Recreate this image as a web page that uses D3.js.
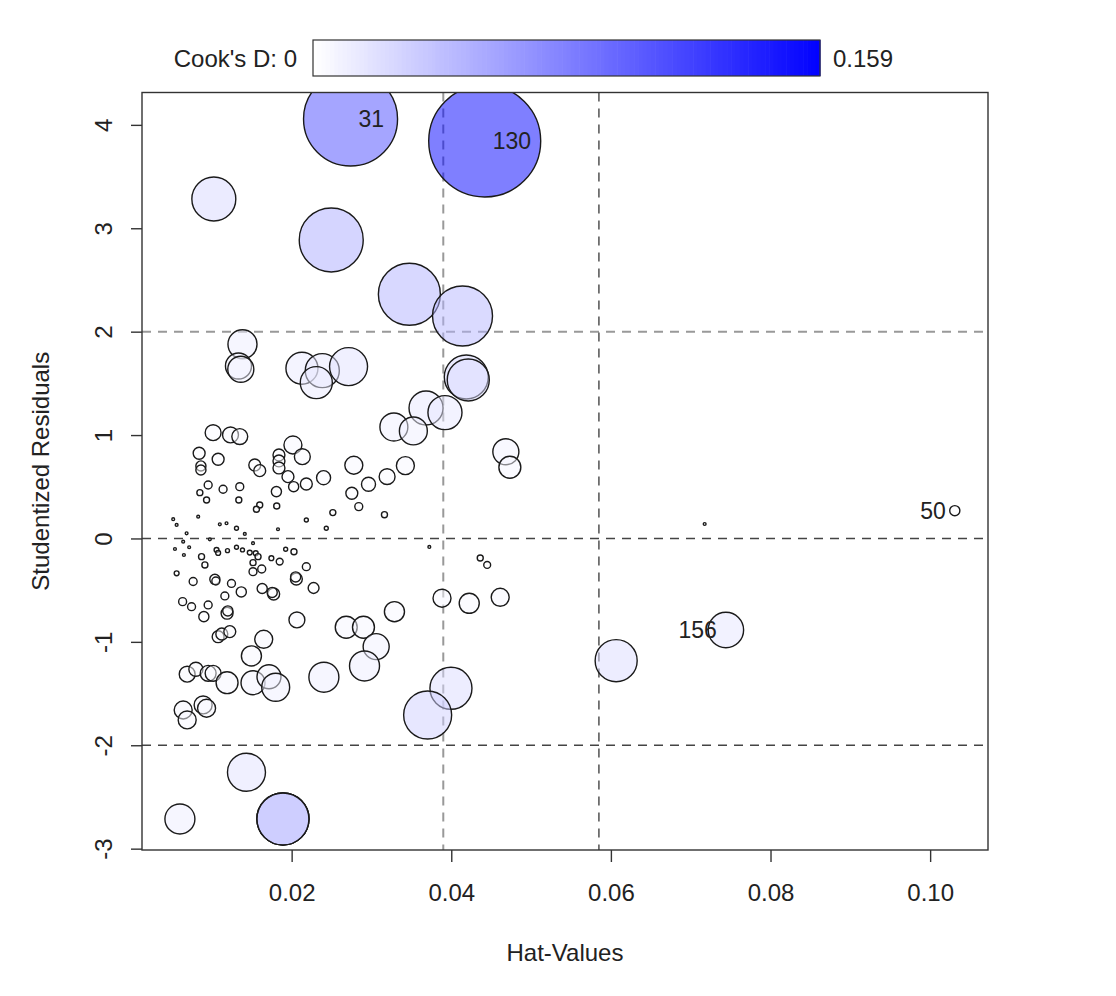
<!DOCTYPE html>
<html>
<head>
<meta charset="utf-8">
<script src="https://cdn.jsdelivr.net/npm/d3@7"></script>
<style>
  body { margin: 0; background: #fff; }
  text { font-family: "Liberation Sans", Arial, Helvetica, sans-serif; fill: #222; }
</style>
</head>
<body>
<svg id="chart" width="1116" height="996"></svg>
<script>
// influence plot data: hat value, studentized residual, Cook's D
const hatValues = [
  0.02738, 0.04419, 0.07441, 0.10309, 0.01025, 0.02496, 0.03475, 0.04141, 0.01384, 0.01334,
  0.01363, 0.02129, 0.02384, 0.02309, 0.02713, 0.04188, 0.04213, 0.03684, 0.03921, 0.03281,
  0.03525, 0.04684, 0.04734, 0.03425, 0.03196, 0.02963, 0.02779, 0.02754, 0.02841, 0.02516,
  0.03163, 0.02400, 0.02184, 0.01016, 0.01234, 0.01350, 0.00841, 0.01079, 0.00863, 0.00863,
  0.01538, 0.01600, 0.01841, 0.01841, 0.01841, 0.02016, 0.02134, 0.01954, 0.02025, 0.00954,
  0.00850, 0.00934, 0.01141, 0.01350, 0.01338, 0.01600, 0.01559, 0.01813, 0.01809, 0.02184,
  0.02434, 0.00829, 0.00516, 0.00559, 0.01100, 0.01184, 0.01309, 0.01829, 0.00684, 0.01413,
  0.07175, 0.00641, 0.00975, 0.00538, 0.00716, 0.00650, 0.00871, 0.00913, 0.01059, 0.01079,
  0.01196, 0.01309, 0.01384, 0.01475, 0.01550, 0.01579, 0.01516, 0.01746, 0.01850, 0.01925,
  0.02029, 0.01516, 0.00559, 0.00766, 0.01038, 0.01050, 0.01246, 0.01369, 0.01163, 0.01516,
  0.01625, 0.01631, 0.01775, 0.01756, 0.02059, 0.02050, 0.02184, 0.02275, 0.00634, 0.00746,
  0.00954, 0.00900, 0.01191, 0.01200, 0.01079, 0.01125, 0.01225, 0.02066, 0.01650, 0.01496,
  0.02684, 0.02900, 0.03059, 0.02913, 0.03288, 0.03884, 0.04225, 0.04613, 0.00691, 0.00800,
  0.00954, 0.01016, 0.01191, 0.01516, 0.01716, 0.01800, 0.02404, 0.00641, 0.00691, 0.00891,
  0.00934, 0.03996, 0.03704, 0.01434, 0.00600, 0.01891, 0.01891, 0.01891, 0.06066, 0.03725,
  0.04363, 0.04450
];
const studResiduals = [
  4.057, 3.844, -0.885, 0.269, 3.283, 2.887, 2.362, 2.152, 1.878, 1.668,
  1.636, 1.646, 1.623, 1.507, 1.662, 1.562, 1.533, 1.262, 1.217, 1.078,
  1.040, 0.839, 0.689, 0.704, 0.598, 0.524, 0.708, 0.437, 0.308, 0.250,
  0.230, 0.588, 0.527, 1.023, 1.001, 0.985, 0.824, 0.766, 0.701, 0.662,
  0.711, 0.656, 0.808, 0.750, 0.682, 0.904, 0.791, 0.598, 0.501, 0.517,
  0.443, 0.372, 0.476, 0.501, 0.372, 0.324, 0.282, 0.314, 0.453, 0.179,
  0.099, 0.211, 0.186, 0.131, 0.137, 0.147, 0.099, 0.089, 0.050, 0.044,
  0.140, -0.031, -0.008, -0.102, -0.085, -0.160, -0.176, -0.256, -0.111, -0.140,
  -0.118, -0.085, -0.111, -0.137, -0.143, -0.176, -0.234, -0.191, -0.224, -0.104,
  -0.128, -0.046, -0.337, -0.416, -0.395, -0.411, -0.435, -0.517, -0.556, -0.321,
  -0.295, -0.484, -0.537, -0.522, -0.392, -0.372, -0.273, -0.479, -0.611, -0.660,
  -0.643, -0.756, -0.723, -0.701, -0.950, -0.924, -0.901, -0.788, -0.975, -1.136,
  -0.859, -0.859, -1.046, -1.233, -0.708, -0.578, -0.627, -0.569, -1.313, -1.265,
  -1.304, -1.304, -1.395, -1.395, -1.337, -1.439, -1.342, -1.659, -1.755, -1.610,
  -1.642, -1.449, -1.707, -2.261, -2.713, -2.713, -2.713, -2.713, -1.182, -0.082,
  -0.189, -0.256
];
const cooksD = [
  0.112, 0.159, 0.0159, 0.0013, 0.0245, 0.0519, 0.0487, 0.0456, 0.0107, 0.0086,
  0.0086, 0.0130, 0.0147, 0.0130, 0.0183, 0.0245, 0.0224, 0.0147, 0.0147, 0.0099,
  0.0099, 0.0086, 0.0061, 0.0041, 0.0032, 0.0025, 0.0041, 0.0018, 0.0008, 0.00046,
  0.00046, 0.0025, 0.0018, 0.0032, 0.0032, 0.0032, 0.0018, 0.0018, 0.0013, 0.0013,
  0.0018, 0.0018, 0.0018, 0.0018, 0.0018, 0.0041, 0.0032, 0.0018, 0.0013, 0.0008,
  0.00046, 0.00046, 0.0008, 0.0008, 0.00046, 0.00046, 0.00046, 0.00046, 0.0013, 0.0002,
  0.0002, 0.0001, 0.0001, 0.0001, 0.0001, 0.0001, 0.0002, 0.0001, 0.00005, 0.0001,
  0.0001, 0.00005, 0.0001, 0.0001, 0.0001, 0.0001, 0.00046, 0.00046, 0.0003, 0.0003,
  0.0002, 0.0002, 0.0002, 0.0003, 0.0003, 0.00046, 0.00046, 0.0003, 0.0006, 0.0002,
  0.00046, 0.00005, 0.0003, 0.0008, 0.0013, 0.0008, 0.0008, 0.0013, 0.0008, 0.0008,
  0.0008, 0.0013, 0.0018, 0.0013, 0.0018, 0.0013, 0.0008, 0.0015, 0.0008, 0.0008,
  0.0008, 0.0013, 0.0018, 0.0013, 0.0018, 0.0018, 0.0018, 0.0032, 0.0041, 0.0051,
  0.0061, 0.0061, 0.0086, 0.0114, 0.0051, 0.0041, 0.0051, 0.0041, 0.0032, 0.0025,
  0.0032, 0.0032, 0.0061, 0.0073, 0.0073, 0.0099, 0.0114, 0.0041, 0.0041, 0.0041,
  0.0041, 0.0224, 0.0292, 0.0183, 0.0114, 0.0343, 0.0343, 0.0343, 0.0224, 0.0001,
  0.00046, 0.0006
];
// labelled observations (index into the arrays above)
const idNames = ["31", "130", "156", "50"];
const idIndex = [0, 1, 2, 3];

const xTicks = [0.02, 0.04, 0.06, 0.08, 0.10];
const yTicks = [-3, -2, -1, 0, 1, 2, 3, 4];
const hLines = [-2, 0, 2];
const vLines = [0.039, 0.0585];   // 2 and 3 times mean hat value
const cookMax = 0.159;

const svg = d3.select("#chart");
const L = 142, R = 988, T = 92.5, B = 850;

const x = d3.scaleLinear().domain([0.00125, 0.10725]).range([L, R]);
const y = d3.scaleLinear().domain([-3.013, 4.313]).range([B, T]);
const rad = d3.scaleSqrt().domain([0, cookMax]).range([0, 56]);
const col = d3.scaleLinear().domain([0, cookMax]).range(["#ffffff", "#0000ff"]).interpolate(d3.interpolateRgb).clamp(true);

svg.append("defs").append("clipPath").attr("id", "plotclip")
  .append("rect").attr("x", L).attr("y", T).attr("width", R - L).attr("height", B - T);

// reference lines
const gLines = svg.append("g").attr("clip-path", "url(#plotclip)");
hLines.forEach(v => {
  const soft = v === 2;
  gLines.append("line")
    .attr("x1", L).attr("x2", R).attr("y1", y(v)).attr("y2", y(v))
    .attr("stroke", soft ? "#999" : "#444").attr("stroke-width", soft ? 2 : 1.4)
    .attr("stroke-dasharray", "9,7");
});
vLines.forEach((v, i) => {
  const soft = i === 0;
  gLines.append("line")
    .attr("x1", x(v)).attr("x2", x(v)).attr("y1", T).attr("y2", B)
    .attr("stroke", soft ? "#999" : "#444").attr("stroke-width", soft ? 2 : 1.4)
    .attr("stroke-dasharray", "9,7");
});

// points
const pts = d3.range(hatValues.length);
svg.append("g").attr("clip-path", "url(#plotclip)")
  .selectAll("circle").data(pts).enter().append("circle")
  .attr("cx", i => x(hatValues[i]))
  .attr("cy", i => y(studResiduals[i]))
  .attr("r", i => Math.max(1.4, rad(cooksD[i])))
  .attr("fill", i => col(cooksD[i]))
  .attr("fill-opacity", 0.5)
  .attr("stroke", "#1a1a1a")
  .attr("stroke-width", 1.4);

// id labels: right of point in left half, left of point in right half
const xMid = d3.mean(x.domain());
svg.append("g").selectAll("text").data(idIndex).enter().append("text")
  .attr("x", i => hatValues[i] < xMid ? x(hatValues[i]) + 8 : x(hatValues[i]) - 9)
  .attr("y", i => y(studResiduals[i]))
  .attr("dy", "0.35em")
  .attr("text-anchor", i => hatValues[i] < xMid ? "start" : "end")
  .style("font-size", "23px")
  .text((i, k) => idNames[k]);

// box
svg.append("rect").attr("x", L).attr("y", T).attr("width", R - L).attr("height", B - T)
  .attr("fill", "none").attr("stroke", "#333").attr("stroke-width", 1.4);

// axes (R style)
const xAxis = svg.append("g").attr("transform", `translate(0,${B})`)
  .call(d3.axisBottom(x).tickValues(xTicks).tickSize(12).tickSizeOuter(0).tickFormat(d3.format(".2f")));
xAxis.select(".domain").remove();
xAxis.selectAll("line").attr("stroke", "#333").attr("stroke-width", 1.4);
xAxis.selectAll("text").attr("y", 43).attr("dy", "0.35em")
  .style("font-size", "24px").style("fill", "#222");

const yAxis = svg.append("g").attr("transform", `translate(${L},0)`)
  .call(d3.axisLeft(y).tickValues(yTicks).tickSize(11).tickSizeOuter(0).tickFormat(d => String(d)));
yAxis.select(".domain").remove();
yAxis.selectAll("line").attr("stroke", "#333").attr("stroke-width", 1.4);
yAxis.selectAll("text")
  .attr("x", null).attr("dy", null)
  .attr("transform", "translate(-39,0) rotate(-90)")
  .attr("text-anchor", "middle").attr("dominant-baseline", "central")
  .style("font-size", "24px").style("fill", "#222");

// axis titles
svg.append("text").attr("x", (L + R) / 2).attr("y", 952)
  .attr("text-anchor", "middle").attr("dominant-baseline", "central")
  .style("font-size", "24px").text("Hat-Values");
svg.append("text").attr("transform", `translate(40,${(T + B) / 2}) rotate(-90)`)
  .attr("text-anchor", "middle").attr("dominant-baseline", "central")
  .style("font-size", "24px").text("Studentized Residuals");

// Cook's D colour bar
const cb = d3.scaleLinear().domain([0, cookMax]).range([313, 820]);
const cbTop = 40, cbH = 36, nSteps = 120;
const steps = d3.range(nSteps).map(k => k * cookMax / nSteps);
svg.append("g").selectAll("rect").data(steps).enter().append("rect")
  .attr("x", d => cb(d)).attr("y", cbTop)
  .attr("width", cb(cookMax / nSteps) - cb(0) + 0.6).attr("height", cbH)
  .attr("fill", d => col(d));
svg.append("rect").attr("x", cb(0)).attr("y", cbTop).attr("width", cb(cookMax) - cb(0)).attr("height", cbH)
  .attr("fill", "none").attr("stroke", "#333").attr("stroke-width", 1.2);
svg.append("text").attr("x", cb(0) - 16).attr("y", cbTop + cbH / 2)
  .attr("text-anchor", "end").attr("dominant-baseline", "central")
  .style("font-size", "24px").text("Cook's D: 0");
svg.append("text").attr("x", cb(cookMax) + 13).attr("y", cbTop + cbH / 2)
  .attr("dominant-baseline", "central")
  .style("font-size", "24px").text(String(cookMax));
</script>
</body>
</html>
